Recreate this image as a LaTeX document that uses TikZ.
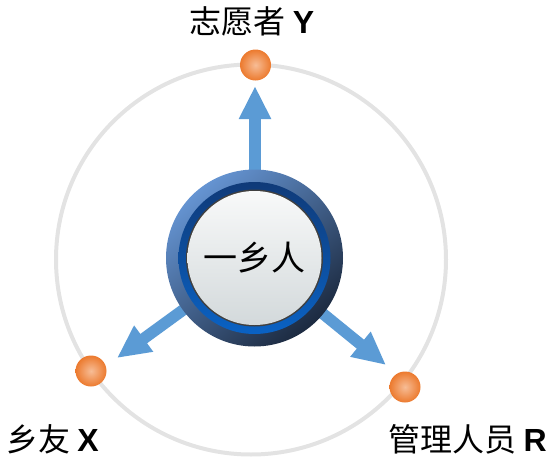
\documentclass[tikz,border=0pt]{standalone}
\usepackage{fontspec}
\newfontfamily\cjk{Noto Sans CJK SC}
\newfontfamily\lat{Liberation Sans}
\usetikzlibrary{arrows.meta,backgrounds}
\definecolor{arrowblue}{HTML}{5B9BD5}
\definecolor{ringgray}{HTML}{E3E3E3}
\definecolor{ringlight}{HTML}{6594D2}
\definecolor{ringdark}{HTML}{1C2A40}
\definecolor{bandtop}{HTML}{0F3A78}
\definecolor{bandbot}{HTML}{0A62C4}
\definecolor{disktop}{HTML}{F8F9F9}
\definecolor{diskbot}{HTML}{D3D9DB}
\definecolor{dotin}{HTML}{F7BD96}
\definecolor{dotout}{HTML}{EC7A2E}
\tikzset{
  dotnode/.style={circle, minimum size=31pt, inner sep=0pt, shading=radial, inner color=dotin, outer color=dotout},
  hubnode/.style={circle, minimum size=177pt, inner sep=0pt,
    font=\cjk\fontsize{34}{34}\selectfont,
    path picture={
      \shade[top color=ringlight, bottom color=ringdark, shading angle=40]
        (path picture bounding box.center) circle[radius=88.5pt];
      \shade[top color=bandtop, bottom color=bandbot]
        (path picture bounding box.center) circle[radius=76pt];
      \fill[black!75] (path picture bounding box.center) circle[radius=68.5pt];
      \shade[top color=disktop, bottom color=diskbot]
        (path picture bounding box.center) circle[radius=67pt];
    }},
  flow/.style={draw=arrowblue, line width=11.5pt,
    -{Triangle[width=30pt 0, length=33pt 0, fill=arrowblue]}},
  labelnode/.style={inner sep=0pt, font=\cjk\fontsize{32}{32}\selectfont},
  bigring/.style={draw=ringgray, line width=4pt}
}
\begin{document}
\begin{tikzpicture}[x=1pt,y=-1pt]
\useasboundingbox (0,0) rectangle (552,461);
\node[hubnode] (hub) at (254.5,258) {一乡人};
\coordinate (ringc) at (251,259.5);
\coordinate (tipY) at (255,86);
\coordinate (tipX) at (117,358);
\coordinate (tipR) at (386,365);
\begin{scope}[on background layer]
  \draw[bigring] (ringc) circle[radius=195pt];
  \draw[flow] (hub.center -| tipY) -- (tipY);
  \draw[flow] (hub.center) -- (tipX);
  \draw[flow] (hub.center) -- (tipR);
\end{scope}
\node[dotnode] (Y) at (255.5,65) {};
\node[dotnode] (X) at (91,371) {};
\node[dotnode] (R) at (405,387) {};
\node[labelnode] (labY) at (252,21) {志愿者 {\lat\bfseries Y}};
\node[labelnode, anchor=west] (labX) at (6,439) {乡友 {\lat\bfseries X}};
\node[labelnode, anchor=east] (labR) at (547,439) {管理人员 {\lat\bfseries R}};
\end{tikzpicture}
\end{document}
